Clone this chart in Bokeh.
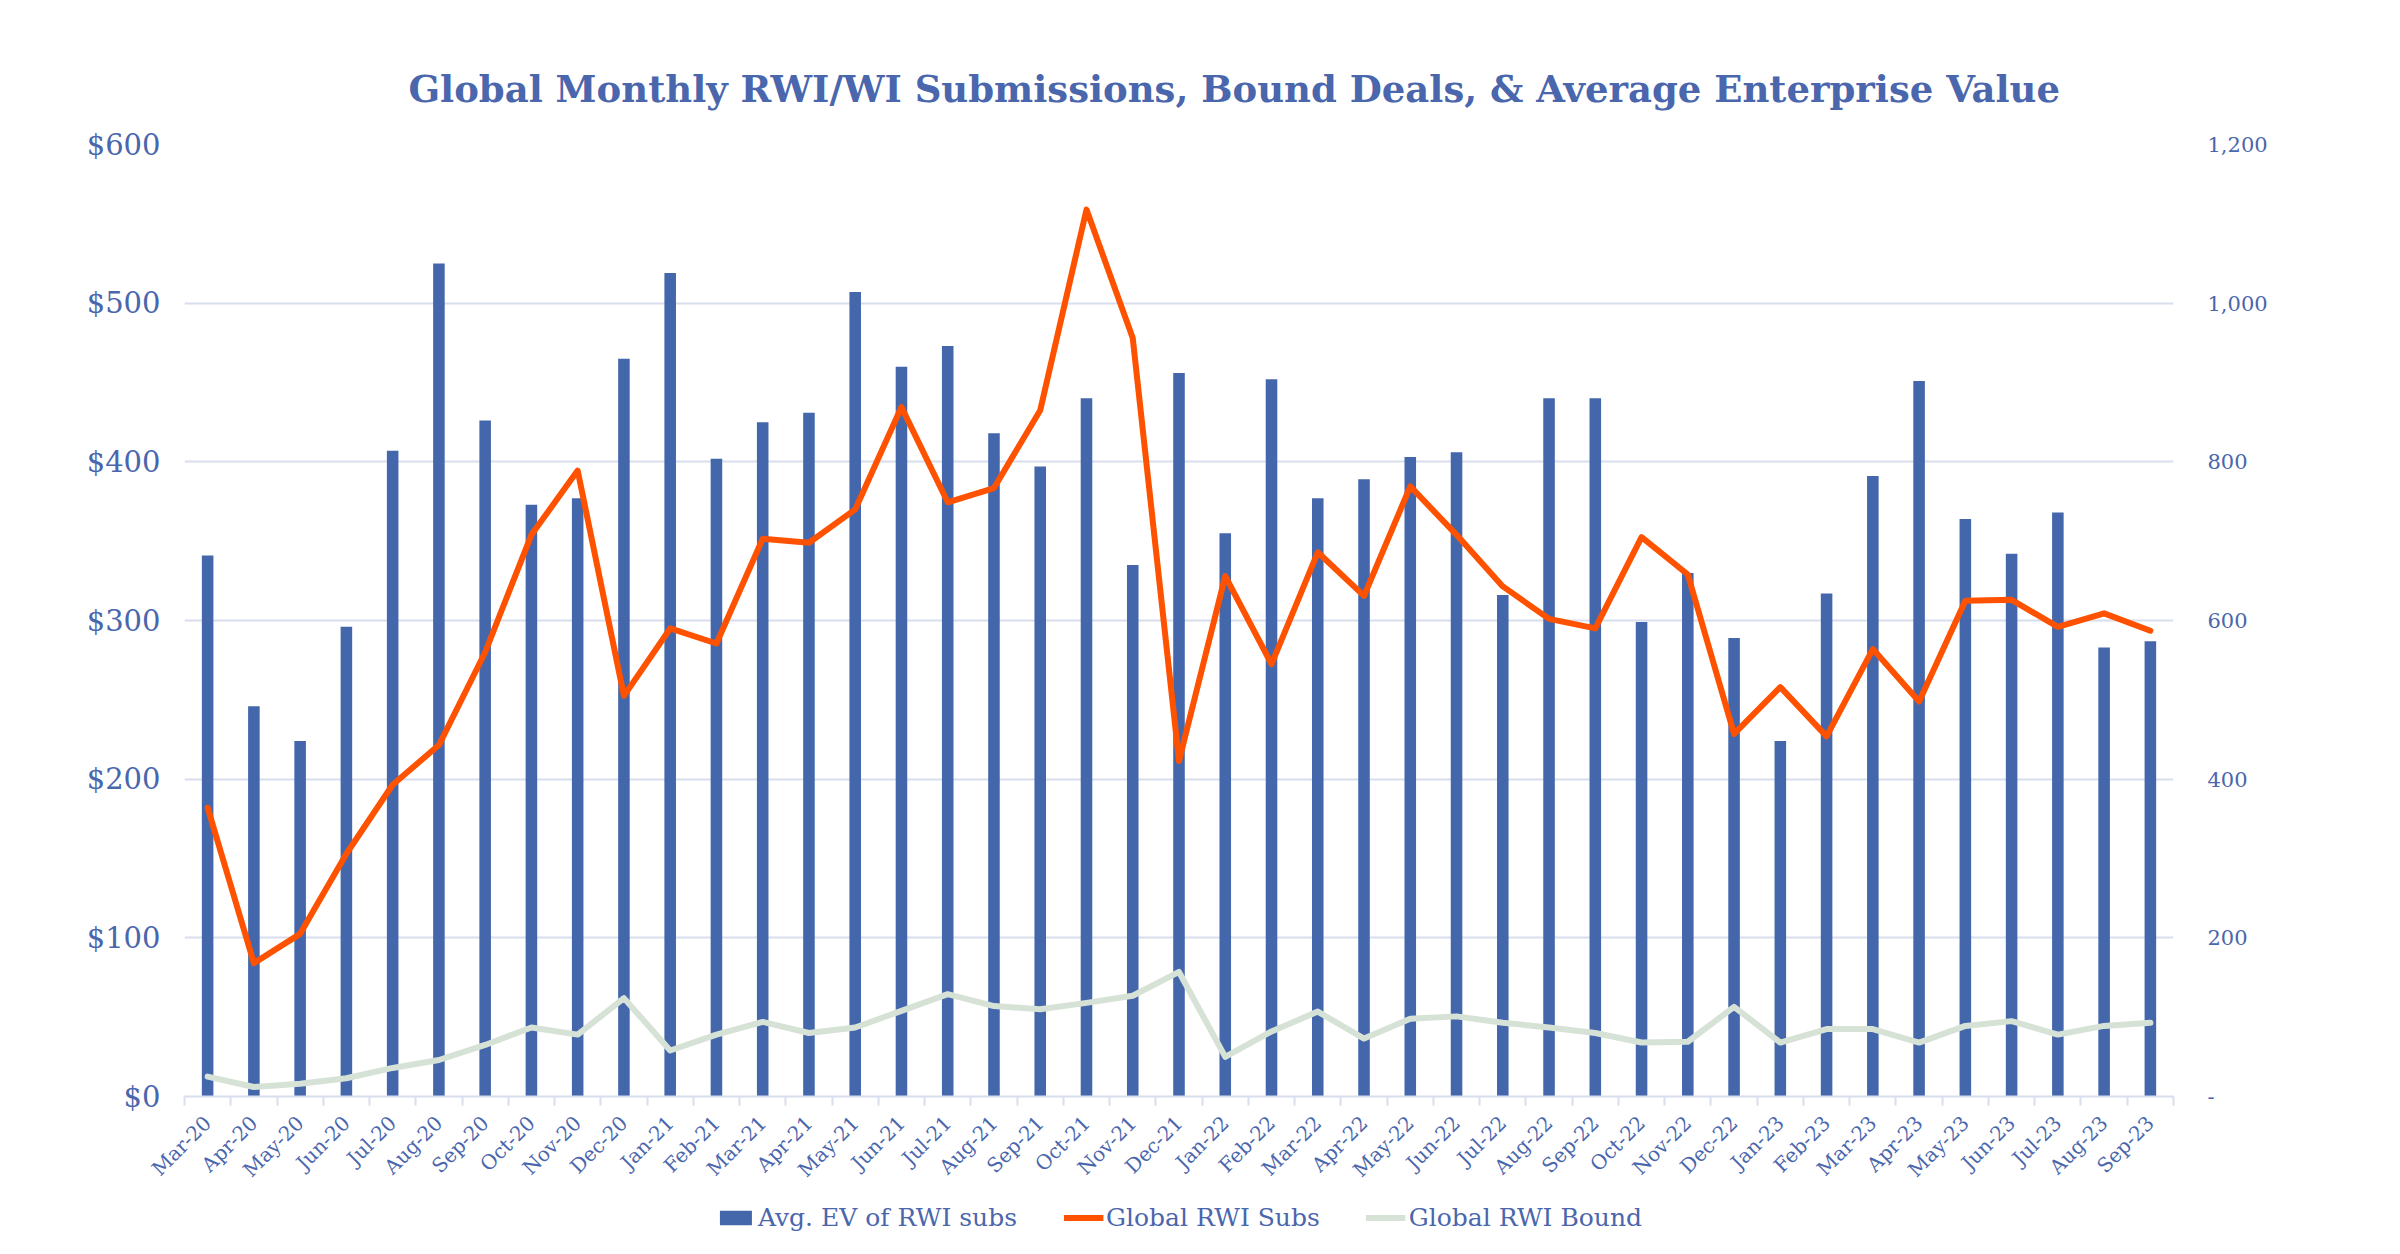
import math
import numpy as np
from bokeh.plotting import figure
from bokeh.layouts import column
from bokeh.models import (Range1d, LinearAxis, FixedTicker,
                          PrintfTickFormatter, CustomJSTickFormatter, Legend, LegendItem,
                          ColumnDataSource)
from bokeh.embed import file_html
from bokeh.resources import INLINE

months = ["Mar-20", "Apr-20", "May-20", "Jun-20", "Jul-20", "Aug-20", "Sep-20", "Oct-20",
          "Nov-20", "Dec-20", "Jan-21", "Feb-21", "Mar-21", "Apr-21", "May-21", "Jun-21",
          "Jul-21", "Aug-21", "Sep-21", "Oct-21", "Nov-21", "Dec-21", "Jan-22", "Feb-22",
          "Mar-22", "Apr-22", "May-22", "Jun-22", "Jul-22", "Aug-22", "Sep-22", "Oct-22",
          "Nov-22", "Dec-22", "Jan-23", "Feb-23", "Mar-23", "Apr-23", "May-23", "Jun-23",
          "Jul-23", "Aug-23", "Sep-23"]

avg_ev = [341, 246, 224, 296, 407, 525, 426, 373, 377, 465, 519, 402, 425, 431, 507, 460,
          473, 418, 397, 440, 335, 456, 355, 452, 377, 389, 403, 406, 316, 440, 440, 299,
          330, 289, 224, 317, 391, 451, 364, 342, 368, 283, 287]

rwi_subs = [364, 168, 205, 306, 393, 443, 560, 708, 789, 505, 590, 571, 703, 698, 740, 869,
            749, 767, 865, 1118, 956, 423, 656, 545, 686, 631, 769, 708, 643, 602, 590, 705,
            658, 457, 516, 454, 564, 498, 625, 626, 592, 609, 587]

rwi_bound = [25, 12, 16, 23, 36, 46, 65, 87, 78, 124, 58, 78, 94, 80, 87, 108, 129, 114, 110,
             118, 127, 157, 50, 82, 107, 73, 98, 101, 93, 87, 80, 68, 69, 113, 68, 85, 85, 68,
             89, 95, 78, 89, 93]

left_ticks = [0, 100, 200, 300, 400, 500, 600]
right_ticks = [0, 200, 400, 600, 800, 1000, 1200]

title_text = "Global Monthly RWI/WI Submissions, Bound Deals, & Average Enterprise Value"
series_names = ["Avg. EV of RWI subs", "Global RWI Subs", "Global RWI Bound"]

BLUE = "#4467AC"
TEXT = "#4A66AC"
ORANGE = "#FF5200"
GREEN = "#D6E2D6"
GRID = "#D9DEEE"
FONT = "DejaVu Serif"

n = len(months)
xpos = np.arange(n) + 0.5   # category centres

src = ColumnDataSource(dict(x=xpos, m=months, ev=avg_ev, subs=rwi_subs, bound=rwi_bound))

p = figure(width=2380, height=1196, x_range=Range1d(0, n), y_range=Range1d(0, 600),
           output_backend="svg", toolbar_location=None, x_axis_location=None,
           title=title_text, min_border_left=184, min_border_right=207,
           min_border_top=144, min_border_bottom=100)
p.extra_y_ranges = {"right": Range1d(0, 1200)}

p.outline_line_color = None
p.background_fill_color = "white"
p.border_fill_color = "white"

p.title.text_font = FONT
p.title.text_font_style = "bold"
p.title.text_font_size = "37px"
p.title.text_color = TEXT
p.title.align = "left"
p.title.offset = 224
p.title.standoff = 68

# left axis
ya = p.yaxis[0]
ya.ticker = FixedTicker(ticks=left_ticks)
ya.formatter = PrintfTickFormatter(format="$%d")
ya.axis_line_color = None
ya.major_tick_line_color = None
ya.minor_tick_line_color = None
ya.major_label_text_font = FONT
ya.major_label_text_font_size = "29px"
ya.major_label_text_color = TEXT
ya.major_label_standoff = 18

p.ygrid.grid_line_color = GRID
p.ygrid.grid_line_width = 2
p.xgrid.visible = False

# right axis
ra = LinearAxis(y_range_name="right", ticker=FixedTicker(ticks=right_ticks),
                formatter=CustomJSTickFormatter(code="return tick == 0 ? '-' : tick.toLocaleString('en-US');"))
ra.axis_line_color = None
ra.major_tick_line_color = None
ra.minor_tick_line_color = None
ra.major_label_text_font = FONT
ra.major_label_text_font_size = "21px"
ra.major_label_text_color = TEXT
ra.major_label_standoff = 28
p.add_layout(ra, "right")

# boundary tick axis (ticks between categories, no labels)
ta = LinearAxis(ticker=FixedTicker(ticks=list(range(n + 1))),
                formatter=CustomJSTickFormatter(code="return '';"))
ta.axis_line_color = GRID
ta.axis_line_width = 2
ta.major_tick_line_color = GRID
ta.major_tick_line_width = 2
ta.major_tick_in = 0
ta.major_tick_out = 9
ta.minor_tick_line_color = None
ta.major_label_text_font_size = "1px"
ta.major_label_standoff = 0
p.add_layout(ta, "below")

# category label axis
ca = LinearAxis(ticker=FixedTicker(ticks=list(xpos)),
                formatter=CustomJSTickFormatter(args=dict(months=months),
                                                code="return months[Math.floor(tick)];"))
ca.axis_line_color = None
ca.major_tick_line_color = None
ca.minor_tick_line_color = None
ca.major_label_orientation = math.pi / 4
ca.major_label_text_font = FONT
ca.major_label_text_font_size = "20px"
ca.major_label_text_color = TEXT
ca.major_label_standoff = 8
p.add_layout(ca, "below")

p.vbar(x="x", top="ev", width=0.25, source=src, fill_color=BLUE, line_color=None)
p.line(x="x", y="subs", source=src, y_range_name="right", line_color=ORANGE,
       line_width=6, line_join="round", line_cap="round")
p.line(x="x", y="bound", source=src, y_range_name="right", line_color=GREEN,
       line_width=6, line_join="round", line_cap="round")

# legend strip below the chart (same styles as the series)
q = figure(width=2380, height=42, x_range=Range1d(0, 1), y_range=Range1d(0, 1),
           output_backend="svg", toolbar_location=None, x_axis_location=None,
           y_axis_location=None, min_border=0, min_border_left=20)
q.outline_line_color = None
q.grid.visible = False
q.border_fill_color = "white"
off = ColumnDataSource(dict(x=[-10.0, -9.0], y=[-10.0, -9.0]))
b_r = q.vbar(x="x", top="y", width=0.24, source=off, fill_color=BLUE, line_color=None)
l1_r = q.line(x="x", y="y", source=off, line_color=ORANGE, line_width=6)
l2_r = q.line(x="x", y="y", source=off, line_color=GREEN, line_width=6)

legend = Legend(items=[LegendItem(label=series_names[0], renderers=[b_r]),
                       LegendItem(label=series_names[1], renderers=[l1_r]),
                       LegendItem(label=series_names[2], renderers=[l2_r])],
                orientation="horizontal", location="center")
legend.border_line_color = None
legend.background_fill_alpha = 0
legend.label_text_font = FONT
legend.label_text_font_size = "25px"
legend.label_text_color = TEXT
legend.glyph_width = 40
legend.glyph_height = 18
legend.label_standoff = 3
legend.spacing = 46
legend.margin = 0
legend.padding = 4
q.add_layout(legend, "center")

layout = column(p, q, spacing=0)
open("out.html", "w").write(file_html(layout, INLINE))
